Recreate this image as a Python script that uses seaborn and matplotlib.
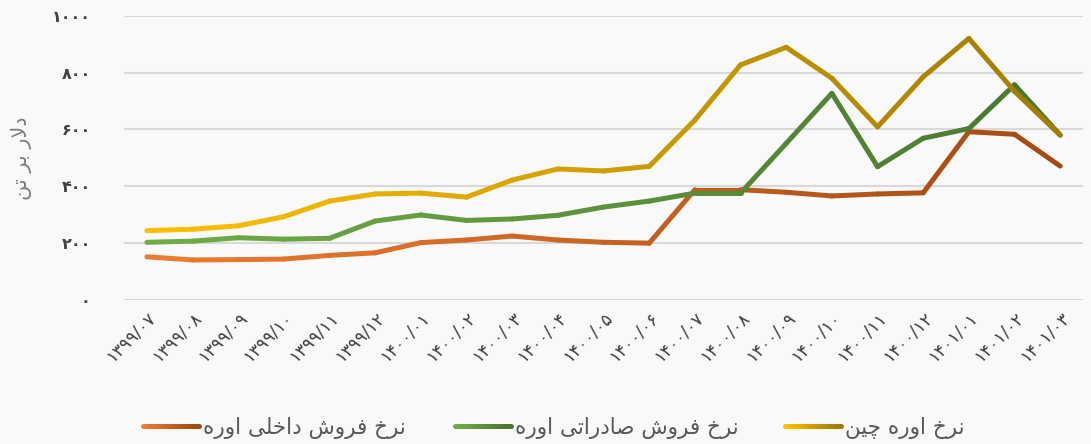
import numpy as np
import pandas as pd
import seaborn as sns
import matplotlib
matplotlib.use('Agg')
import matplotlib.pyplot as plt
from matplotlib import font_manager
from matplotlib.ft2font import FT2Font
from matplotlib.collections import LineCollection
from matplotlib.legend_handler import HandlerBase
from matplotlib.colors import to_rgb


# Data (months in Persian calendar, USD per tonne)
months = ['۱۳۹۹/۰۷', '۱۳۹۹/۰۸', '۱۳۹۹/۰۹', '۱۳۹۹/۱۰', '۱۳۹۹/۱۱', '۱۳۹۹/۱۲',
          '۱۴۰۰/۰۱', '۱۴۰۰/۰۲', '۱۴۰۰/۰۳', '۱۴۰۰/۰۴', '۱۴۰۰/۰۵', '۱۴۰۰/۰۶',
          '۱۴۰۰/۰۷', '۱۴۰۰/۰۸', '۱۴۰۰/۰۹', '۱۴۰۰/۱۰', '۱۴۰۰/۱۱', '۱۴۰۰/۱۲',
          '۱۴۰۱/۰۱', '۱۴۰۱/۰۲', '۱۴۰۱/۰۳']
domestic = [152, 141, 142, 144, 157, 166, 202, 211, 225, 211, 203, 200,
            388, 388, 379, 366, 373, 377, 592, 583, 471]
export = [203, 207, 219, 214, 217, 278, 299, 280, 285, 298, 327, 348,
          376, 376, 551, 727, 469, 569, 603, 757, 580]
china = [244, 249, 261, 293, 348, 373, 376, 362, 422, 461, 454, 470,
         633, 827, 889, 780, 609, 785, 920, 734, 580]

series_names = ['نرخ فروش داخلی اوره', 'نرخ فروش صادراتی اوره', 'نرخ اوره چین']
ylabel = 'دلار بر تن'
yticks = [0, 200, 400, 600, 800, 1000]
ytick_labels = ['۰', '۲۰۰', '۴۰۰', '۶۰۰', '۸۰۰', '۱۰۰۰']

grads = [('#ED7D31', '#A34A12'), ('#70AD47', '#4A7530'), ('#FFC000', '#A07D00')]

# --- minimal arabic shaping (matplotlib has no bidi/shaping) ---
FORMS = {  # isolated, final, initial, medial
    'ا': ('\uFE8D', '\uFE8E', None, None),
    'ب': ('\uFE8F', '\uFE90', '\uFE91', '\uFE92'),
    'ت': ('\uFE95', '\uFE96', '\uFE97', '\uFE98'),
    'خ': ('\uFEA5', '\uFEA6', '\uFEA7', '\uFEA8'),
    'د': ('\uFEA9', '\uFEAA', None, None),
    'ر': ('\uFEAD', '\uFEAE', None, None),
    'ش': ('\uFEB5', '\uFEB6', '\uFEB7', '\uFEB8'),
    'ص': ('\uFEB9', '\uFEBA', '\uFEBB', '\uFEBC'),
    'ف': ('\uFED1', '\uFED2', '\uFED3', '\uFED4'),
    'ل': ('\uFEDD', '\uFEDE', '\uFEDF', '\uFEE0'),
    'ن': ('\uFEE5', '\uFEE6', '\uFEE7', '\uFEE8'),
    'ه': ('\uFEE9', '\uFEEA', '\uFEEB', '\uFEEC'),
    'و': ('\uFEED', '\uFEEE', None, None),
    'ی': ('\uFEEF', '\uFEF0', '\uFEF3', '\uFEF4'),
    'چ': ('\uFB7A', '\uFB7B', '\uFB7C', '\uFB7D'),
}

charmap = FT2Font(font_manager.findfont('DejaVu Sans')).get_charmap()


def shape(text):
    out = []
    chars = list(text)
    i = 0
    while i < len(chars):
        c = chars[i]
        if c not in FORMS:
            out.append(c)
            i += 1
            continue
        prev = chars[i - 1] if i > 0 else ''
        prev_joins = prev in FORMS and FORMS[prev][2] is not None
        # lam-alef ligature
        if c == 'ل' and i + 1 < len(chars) and chars[i + 1] == 'ا':
            out.append('\uFEFC' if prev_joins else '\uFEFB')
            i += 2
            continue
        nxt = chars[i + 1] if i + 1 < len(chars) else ''
        next_joins = FORMS[c][2] is not None and nxt in FORMS
        if prev_joins and next_joins:
            g = FORMS[c][3]
        elif prev_joins:
            g = FORMS[c][1]
        elif next_joins:
            g = FORMS[c][2]
        else:
            g = FORMS[c][0]
        if ord(g) not in charmap:
            g = c
        out.append(g)
        i += 1
    return ''.join(out[::-1])


sns.set_theme(style='white')
plt.rcParams['font.family'] = ['DejaVu Sans']

fig = plt.figure(figsize=(10.91, 4.44), dpi=100, facecolor='#F9F9F9')
ax = fig.add_axes([0.1137, 0.3243, 0.879, 0.6403])
ax.set_facecolor('#F9F9F9')

df = pd.DataFrame({'idx': np.arange(len(months)), 'domestic': domestic,
                   'export': export, 'china': china})


def blend(c0, c1, t):
    a = np.array(to_rgb(c0))
    b = np.array(to_rgb(c1))
    return tuple(a + (b - a) * t)


for k, col in enumerate(['domestic', 'export', 'china']):
    sns.lineplot(data=df, x='idx', y=col, ax=ax, color=grads[k][0])
    line = ax.lines[-1]
    xy = line.get_xydata()
    line.set_visible(False)
    segs = [[xy[j], xy[j + 1]] for j in range(len(xy) - 1)]
    n = len(segs)
    cols = [blend(grads[k][0], grads[k][1], (j + 0.5) / n) for j in range(n)]
    lc = LineCollection(segs, colors=cols, linewidths=3.6, capstyle='round',
                        joinstyle='round', zorder=3 + k)
    ax.add_collection(lc)


class GradHandler(HandlerBase):
    def __init__(self, c0, c1):
        super().__init__()
        self.c0 = c0
        self.c1 = c1

    def create_artists(self, legend, orig_handle, xdescent, ydescent,
                       width, height, fontsize, trans):
        n = 12
        xs = np.linspace(-xdescent, width - xdescent, n + 1)
        y = height / 2 - ydescent
        segs = [[(xs[j], y), (xs[j + 1], y)] for j in range(n)]
        cols = [blend(self.c0, self.c1, j / (n - 1)) for j in range(n)]
        lc = LineCollection(segs, colors=cols, linewidths=3.6, capstyle='round',
                            transform=trans)
        return [lc]


# one small legend per series so the entries sit where they do in the original
leg_x = [0.131, 0.417, 0.7195]
for k in range(3):
    h = plt.Line2D([], [])
    leg = fig.legend([h], [shape(series_names[k])], handler_map={h: GradHandler(*grads[k])},
                     loc='center left', bbox_to_anchor=(leg_x[k], 0.036), frameon=False,
                     fontsize=15.5, handlelength=2.6, handletextpad=0.2,
                     borderpad=0, borderaxespad=0, labelcolor='#595959')

ax.set_xlim(-0.5, 20.5)
ax.set_ylim(0, 1000)
ax.set_yticks(yticks)
ax.set_yticklabels(ytick_labels, fontsize=11.5, color='#404040', fontweight='bold')
ax.set_xticks(np.arange(len(months)))
ax.set_xticklabels(months, rotation=45, ha='right', va='top', rotation_mode='anchor',
                   fontsize=12.5, color='#404040')
ax.tick_params(axis='y', length=0, pad=24)
ax.tick_params(axis='x', length=0, pad=6)
ax.grid(axis='y', color='#D9D9D9', linewidth=1.5)
ax.set_axisbelow(True)
for s in ax.spines.values():
    s.set_visible(False)
ax.set_xlabel('')
ax.set_ylabel(shape(ylabel), fontsize=15, color='#7F7F7F', labelpad=14)

fig.savefig('out.png', dpi=100, facecolor=fig.get_facecolor())
